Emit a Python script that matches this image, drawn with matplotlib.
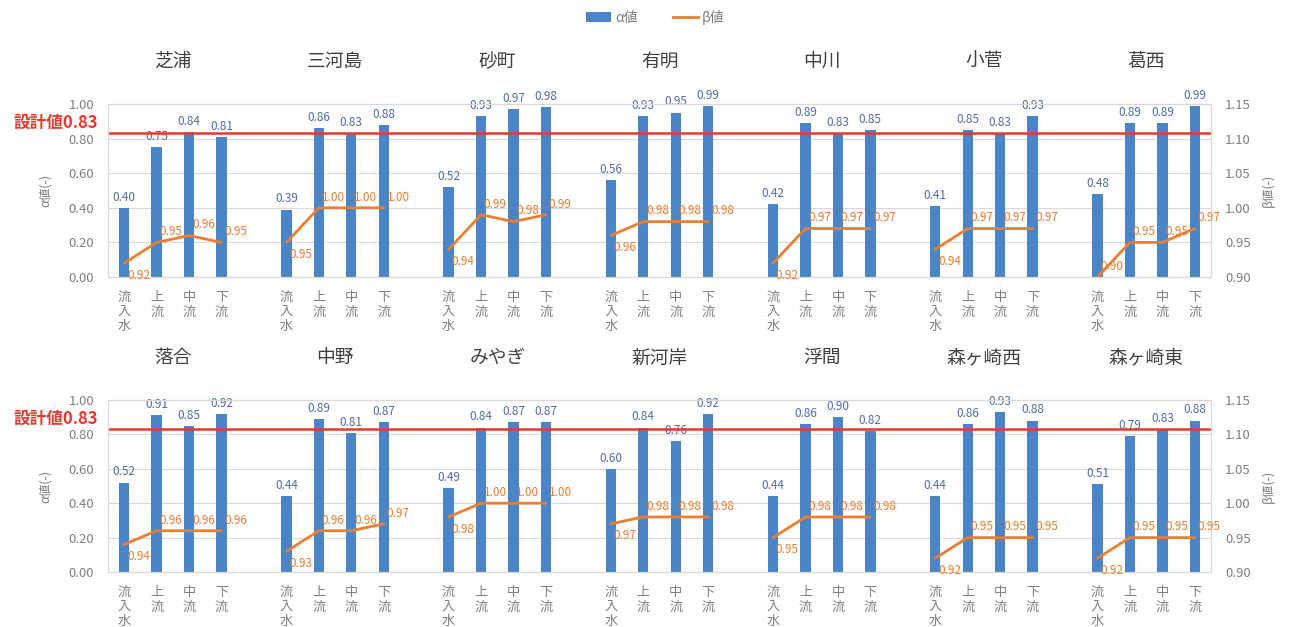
import matplotlib
matplotlib.use("Agg")
import matplotlib.pyplot as plt
from matplotlib.patches import Patch
from matplotlib.lines import Line2D
import matplotlib.transforms as mtransforms

plt.rcParams['font.family'] = ['Noto Sans CJK JP', 'DejaVu Sans']

# Sampling points within each plant
points = ["流入水", "上流", "中流", "下流"]

# Plant names, one row of the figure each
plants_top = ["芝浦", "三河島", "砂町", "有明", "中川", "小菅", "葛西"]
plants_bottom = ["落合", "中野", "みやぎ", "新河岸", "浮間", "森ヶ崎西", "森ヶ崎東"]

# α values (bars)
alpha_top = [
    [0.40, 0.75, 0.84, 0.81],
    [0.39, 0.86, 0.83, 0.88],
    [0.52, 0.93, 0.97, 0.98],
    [0.56, 0.93, 0.95, 0.99],
    [0.42, 0.89, 0.83, 0.85],
    [0.41, 0.85, 0.83, 0.93],
    [0.48, 0.89, 0.89, 0.99],
]
alpha_bottom = [
    [0.52, 0.91, 0.85, 0.92],
    [0.44, 0.89, 0.81, 0.87],
    [0.49, 0.84, 0.87, 0.87],
    [0.60, 0.84, 0.76, 0.92],
    [0.44, 0.86, 0.90, 0.82],
    [0.44, 0.86, 0.93, 0.88],
    [0.51, 0.79, 0.83, 0.88],
]

# β values (lines)
beta_top = [
    [0.92, 0.95, 0.96, 0.95],
    [0.95, 1.00, 1.00, 1.00],
    [0.94, 0.99, 0.98, 0.99],
    [0.96, 0.98, 0.98, 0.98],
    [0.92, 0.97, 0.97, 0.97],
    [0.94, 0.97, 0.97, 0.97],
    [0.90, 0.95, 0.95, 0.97],
]
beta_bottom = [
    [0.94, 0.96, 0.96, 0.96],
    [0.93, 0.96, 0.96, 0.97],
    [0.98, 1.00, 1.00, 1.00],
    [0.97, 0.98, 0.98, 0.98],
    [0.95, 0.98, 0.98, 0.98],
    [0.92, 0.95, 0.95, 0.95],
    [0.92, 0.95, 0.95, 0.95],
]

design_value = 0.83

BAR_C = "#4A85C8"
LINE_C = "#ED7D31"
RED_C = "#E8392E"
GRID_C = "#D9D9D9"
TICK_C = "#7F7F7F"
ALABEL_C = "#4F6BA8"

fig = plt.figure(figsize=(12.9, 6.27), dpi=100)

W, H = 1290, 627
x0, x1 = 108, 1211
rows = [
    (plants_top, alpha_top, beta_top, 104, 277),
    (plants_bottom, alpha_bottom, beta_bottom, 400, 572),
]

slot = len(points) + 1
n_groups = 7

for plants, alphas, betas, ytop, ybot in rows:
    ax = fig.add_axes([x0 / W, 1 - ybot / H, (x1 - x0) / W, (ybot - ytop) / H])
    ax2 = ax.twinx()
    ax.set_zorder(ax2.get_zorder() - 1)
    ax.patch.set_visible(True)
    ax2.patch.set_visible(False)

    xticks, xlabels = [], []
    for g, (name, av, bv) in enumerate(zip(plants, alphas, betas)):
        xs = [g * slot + i for i in range(len(points))]
        ax.bar(xs, av, width=0.32, color=BAR_C, zorder=2)
        for x, a in zip(xs, av):
            ax.annotate(f"{a:.2f}", (x, a), xytext=(0, 3), textcoords="offset points",
                        ha="center", va="bottom", fontsize=8.5, color=ALABEL_C)
        ax2.plot(xs, bv, color=LINE_C, lw=2, zorder=3, solid_capstyle="round")
        for i, (x, b) in enumerate(zip(xs, bv)):
            if i == 0 and b >= 0.915:
                ax2.annotate(f"{b:.2f}", (x, b), xytext=(2, -4), textcoords="offset points",
                             ha="left", va="top", fontsize=8.5, color=LINE_C)
            else:
                ax2.annotate(f"{b:.2f}", (x, b), xytext=(2, 3), textcoords="offset points",
                             ha="left", va="bottom", fontsize=8.5, color=LINE_C)
        xticks += xs
        xlabels += ["\n".join(p) for p in points]
        ax.text(g * slot + 1.5, 1.245, name, transform=mtransforms.blended_transform_factory(
            ax.transData, ax.transAxes), ha="center", va="center", fontsize=13.5, color="#404040")

    ax.set_xlim(-0.5, n_groups * slot - 1.5)
    ax.set_ylim(0, 1.0)
    ax.set_yticks([0, 0.2, 0.4, 0.6, 0.8, 1.0])
    ax.set_yticklabels([f"{v:.2f}" for v in [0, 0.2, 0.4, 0.6, 0.8, 1.0]])
    ax.set_xticks(xticks)
    ax.set_xticklabels(xlabels, fontsize=9.5, color=TICK_C, linespacing=1.15, va="top")
    ax.grid(axis="y", color=GRID_C, lw=0.8, zorder=0)
    ax.set_axisbelow(True)
    ax.tick_params(axis="both", length=0, labelsize=9.5, labelcolor=TICK_C)
    ax.tick_params(axis="y", pad=10)
    ax.tick_params(axis="x", pad=10)

    ax2.set_ylim(0.90, 1.15)
    ax2.set_yticks([0.90, 0.95, 1.00, 1.05, 1.10, 1.15])
    ax2.set_yticklabels([f"{v:.2f}" for v in [0.90, 0.95, 1.00, 1.05, 1.10, 1.15]])
    ax2.tick_params(axis="y", length=0, labelsize=9.5, labelcolor=TICK_C, pad=10)

    for a in (ax, ax2):
        for s in a.spines.values():
            s.set_color(GRID_C)
            s.set_linewidth(0.8)

    ax.set_ylabel("α値(-)", fontsize=9, color=TICK_C, labelpad=12)
    ax2.set_ylabel("β値(-)", fontsize=9, color=TICK_C, rotation=90, labelpad=8)

    # design value line
    ax.axhline(design_value, color=RED_C, lw=1.8, zorder=4)
    ax.text(-0.009, design_value + 0.06, f"設計値{design_value:.2f}", transform=
            mtransforms.blended_transform_factory(ax.transAxes, ax.transData),
            ha="right", va="center", fontsize=12, fontweight="bold", color=RED_C)

handles = [Patch(facecolor=BAR_C, label="α値"),
           Line2D([0], [0], color=LINE_C, lw=2, label="β値")]
fig.legend(handles=handles, loc="center", bbox_to_anchor=(0.508, 0.972), ncol=2,
           frameon=False, fontsize=10, labelcolor=TICK_C, handlelength=1.8,
           handleheight=0.7, columnspacing=2.5, handletextpad=0.3)

fig.savefig("out.png", dpi=100, facecolor="white")
